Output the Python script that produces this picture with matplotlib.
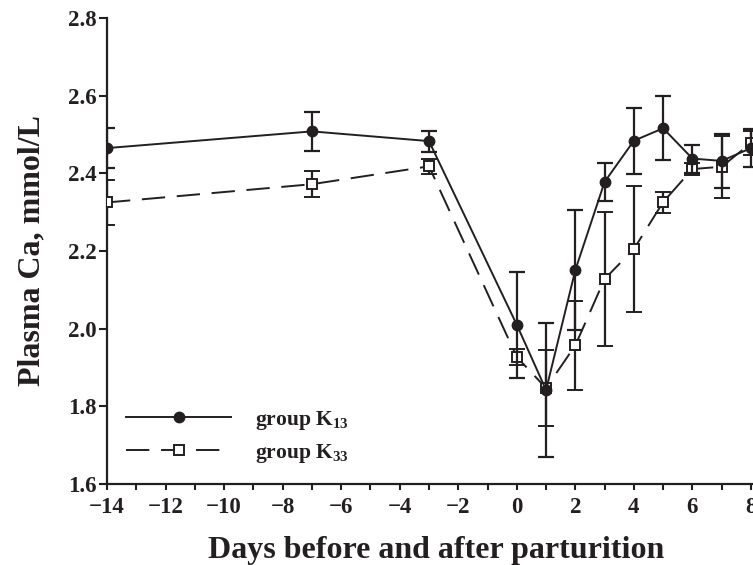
import matplotlib
matplotlib.use('Agg')
import matplotlib.pyplot as plt
from matplotlib.lines import Line2D
from matplotlib.ticker import MultipleLocator

days = [-14, -7, -3, 0, 1, 2, 3, 4, 5, 6, 7, 8]
k13 = [2.465, 2.508, 2.483, 2.010, 1.842, 2.151, 2.378, 2.484, 2.516, 2.438, 2.432, 2.465]
k13_err = [0.052, 0.050, 0.027, 0.136, 0.173, 0.155, 0.049, 0.085, 0.082, 0.036, 0.070, 0.048]
k33 = [2.325, 2.372, 2.418, 1.927, 1.847, 1.957, 2.128, 2.205, 2.326, 2.411, 2.417, 2.478]
k33_err = [0.058, 0.033, 0.020, 0.020, 0.097, 0.115, 0.173, 0.163, 0.027, 0.016, 0.080, 0.030]

ink = '#231f20'
plt.rcParams['font.family'] = 'Liberation Serif'
plt.rcParams['font.weight'] = 'bold'
plt.rcParams['mathtext.fontset'] = 'custom'
plt.rcParams['mathtext.rm'] = 'Liberation Serif:bold'
plt.rcParams['mathtext.it'] = 'Liberation Serif:bold'
plt.rcParams['mathtext.bf'] = 'Liberation Serif:bold'

fig = plt.figure(figsize=(7.53, 5.65), dpi=100)
# axes run past the right edge of the figure, as in the cropped original
ax = fig.add_axes([107/753, 81/565, 658.6/753, 466/565])

sq_style = dict(color=ink, lw=1.4, dashes=(12, 6), marker='s', ms=6.5,
                mfc='white', mec=ink, mew=1.4)
dot_style = dict(color=ink, lw=1.4, marker='o', ms=7.5, mfc=ink, mec=ink)

ax.errorbar(days, k33, yerr=k33_err, ecolor=ink, elinewidth=1.6, capsize=5.5,
            capthick=1.6, zorder=3, **sq_style)
ax.errorbar(days, k13, yerr=k13_err, ecolor=ink, elinewidth=1.6, capsize=5.5,
            capthick=1.6, zorder=4, **dot_style)

ax.set_xlim(-14, 8.5)
ax.set_ylim(1.6, 2.8)
ax.xaxis.set_major_locator(MultipleLocator(2))
ax.xaxis.set_minor_locator(MultipleLocator(1))
ax.yaxis.set_major_locator(MultipleLocator(0.2))
ax.yaxis.set_major_formatter(plt.FormatStrFormatter('%.1f'))

for s in ['top', 'right']:
    ax.spines[s].set_visible(False)
for s in ['left', 'bottom']:
    ax.spines[s].set_linewidth(1.6)
    ax.spines[s].set_color(ink)

ax.tick_params(axis='both', which='both', direction='out', color=ink, width=1.5,
               labelsize=16.5, labelcolor=ink)
ax.tick_params(axis='y', which='major', length=5.5, pad=2)
ax.tick_params(axis='x', which='major', length=4.5, pad=5)
ax.tick_params(axis='x', which='minor', length=4)

ax.set_xlabel('Days before and after parturition', fontsize=23, fontweight='bold',
              color=ink, labelpad=13)
ax.set_ylabel('Plasma Ca, mmol/L', fontsize=23, fontweight='bold', color=ink)
ax.yaxis.set_label_coords(-0.092, 0.5)

handles = [Line2D([], [], **dot_style), Line2D([], [], **sq_style)]
labels = ['group K$_{13}$', 'group K$_{33}$']
leg = ax.legend(handles, labels, loc='upper left',
                bbox_to_anchor=(126/753, 1 - 409/565), bbox_transform=fig.transFigure,
                frameon=False, fontsize=15.5, handlelength=4.9, handletextpad=1.1,
                labelspacing=0.45, borderpad=0, borderaxespad=0)
for t in leg.get_texts():
    t.set_color(ink)

fig.savefig('out.png', dpi=100)
